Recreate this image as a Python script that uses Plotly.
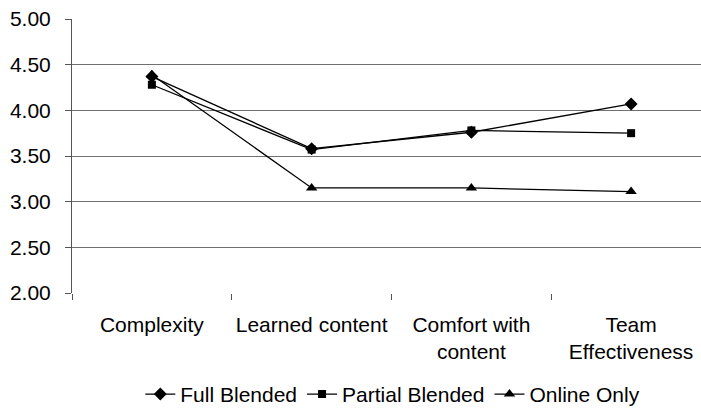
import plotly.graph_objects as go

categories = ["Complexity", "Learned content", "Comfort with<br>content", "Team<br>Effectiveness"]
full_blended = [4.37, 3.58, 3.76, 4.07]
partial_blended = [4.28, 3.57, 3.78, 3.75]
online_only = [4.39, 3.15, 3.15, 3.11]
y_ticks = [2.0, 2.5, 3.0, 3.5, 4.0, 4.5, 5.0]

series = [
    ("Full Blended", full_blended, "diamond", 10),
    ("Partial Blended", partial_blended, "square", 8),
    ("Online Only", online_only, "triangle-up", 10),
]

fig = go.Figure()
for name, vals, sym, size in series:
    fig.add_trace(go.Scatter(
        x=categories, y=vals, name=name, mode="lines+markers",
        line=dict(color="black", width=1.3),
        marker=dict(symbol=sym, size=size, color="black"),
    ))

font = dict(family="Liberation Sans, Arial, sans-serif", size=21, color="black")

fig.update_layout(
    width=701, height=413,
    margin=dict(l=72, r=0, t=19, b=120, autoexpand=False),
    paper_bgcolor="white", plot_bgcolor="white",
    font=font,
    showlegend=True,
    legend=dict(orientation="h", x=0.51, xanchor="center", xref="paper",
                y=-0.37, yanchor="middle", font=font, itemwidth=30,
                traceorder="normal"),
    xaxis=dict(
        type="category", range=[-0.5, 3.4375], automargin=False,
        showgrid=False, showline=False, zeroline=False,
        ticks="outside", tickson="boundaries", ticklen=6, tickcolor="#555",
        tickfont=font, ticklabelstandoff=17, tickangle=0,
    ),
    yaxis=dict(
        range=[2.0, 5.0], tickvals=y_ticks, automargin=False,
        ticktext=[f"{v:.2f}" for v in y_ticks],
        showgrid=True, gridcolor="#707070", gridwidth=1,
        showline=True, linecolor="#555", linewidth=1,
        ticks="outside", ticklen=6, tickcolor="#555",
        zeroline=False, tickfont=font, ticklabelstandoff=10,
    ),
)

fig.write_html(
    "out.html",
    config={"displayModeBar": False},
    post_script="document.body.style.margin='0';document.body.style.overflow='hidden';",
)
